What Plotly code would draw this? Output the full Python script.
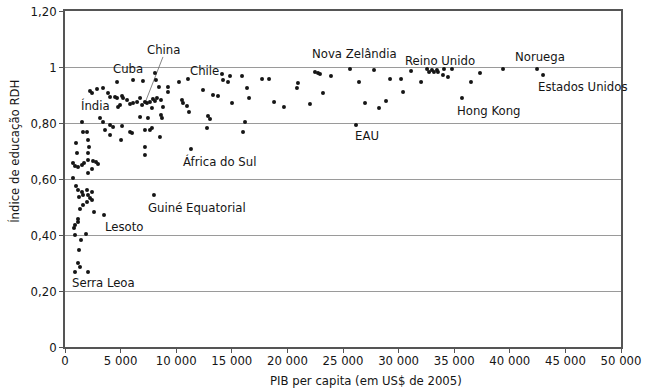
import plotly.graph_objects as go

# GDP per capita (US$ 2005) and HDI education index per country
gdp = [
    720, 990, 1170, 1530, 1620, 1980, 2070, 2250, 2430, 1260,
    1980, 1620, 1350, 2430, 2610, 3510, 1170, 1170, 900, 810,
    900, 1440, 1890, 1260, 1170, 1350, 900, 2070, 8000, 720,
    900, 1170, 1530, 1710, 2070, 2520, 2790, 2970, 2430, 2070,
    990, 1080, 2070, 2160, 2070, 1980, 1620, 1530, 2250, 2430,
    2880, 3420, 3870, 4050, 4500, 4680, 5130, 5220, 5580, 4950,
    4770, 5850, 6120, 6480, 6750, 6930, 7190, 7370, 7640, 7910,
    8090, 8270, 8630, 8810, 4680, 6120, 7010, 3150, 3420, 4050,
    4320, 5130, 5850, 6750, 7460, 8630, 8720, 7820, 7190, 7640,
    7190, 7190, 8540, 6030, 5040, 4050, 3600, 8090, 8180, 8450,
    9260, 9260, 10250, 11060, 12410, 13310, 13760, 14120, 14210, 14840,
    14660, 15920, 16370, 16550, 15020, 10520, 10610, 10970, 11150, 12860,
    13040, 12770, 16190, 16010, 11330, 7820, 17720, 18350, 18800, 19690,
    20950, 20860, 22030, 22480, 22750, 22930, 23200, 23920, 25630, 26440,
    26980, 26170, 27790, 28240, 28870, 29230, 30220, 30400, 31120, 32020,
    32560, 32740, 33000, 33180, 33450, 33540, 34080, 33990, 34440, 34800,
    35700, 36510, 37320, 39390, 42450, 42990,
]
edu = [
    0.604, 0.575, 0.561, 0.554, 0.543, 0.561, 0.543, 0.532, 0.525, 0.536,
    0.518, 0.507, 0.493, 0.554, 0.482, 0.471, 0.457, 0.446, 0.436, 0.425,
    0.400, 0.382, 0.404, 0.346, 0.300, 0.286, 0.268, 0.268, 0.543, 0.657,
    0.646, 0.643, 0.650, 0.657, 0.668, 0.664, 0.661, 0.654, 0.636, 0.621,
    0.729, 0.693, 0.693, 0.714, 0.739, 0.768, 0.768, 0.804, 0.914, 0.907,
    0.921, 0.925, 0.907, 0.893, 0.893, 0.889, 0.896, 0.889, 0.882, 0.864,
    0.857, 0.868, 0.871, 0.875, 0.889, 0.864, 0.875, 0.871, 0.875, 0.886,
    0.879, 0.889, 0.882, 0.857, 0.946, 0.954, 0.950, 0.818, 0.804, 0.793,
    0.786, 0.789, 0.768, 0.821, 0.818, 0.829, 0.818, 0.782, 0.775, 0.775,
    0.714, 0.686, 0.750, 0.764, 0.739, 0.757, 0.775, 0.979, 0.954, 0.929,
    0.929, 0.911, 0.946, 0.957, 0.918, 0.900, 0.896, 0.975, 0.954, 0.968,
    0.946, 0.968, 0.925, 0.889, 0.871, 0.882, 0.871, 0.861, 0.839, 0.825,
    0.814, 0.782, 0.804, 0.768, 0.707, 0.854, 0.957, 0.957, 0.875, 0.857,
    0.943, 0.925, 0.868, 0.982, 0.979, 0.975, 0.907, 0.968, 0.993, 0.946,
    0.871, 0.793, 0.989, 0.854, 0.879, 0.957, 0.957, 0.911, 0.986, 0.946,
    0.993, 0.982, 0.989, 0.982, 0.989, 0.982, 0.993, 0.971, 0.964, 0.993,
    0.889, 0.946, 0.979, 0.993, 0.993, 0.971,
]

# Country labels and their anchor positions (data units)
label_text = ["China", "Cuba", "Índia", "Chile", "África do Sul", "Guiné Equatorial",
              "Lesoto", "Serra Leoa", "Nova Zelândia", "EAU", "Reino Unido",
              "Noruega", "Estados Unidos", "Hong Kong"]
label_x = [8900, 5670, 2700, 12500, 13850, 11870, 5310, 3420, 25990, 27160,
           33720, 42720, 46580, 38130]
label_y = [1.061, 0.996, 0.864, 0.989, 0.664, 0.5, 0.432, 0.232, 1.05, 0.754,
           1.025, 1.036, 0.932, 0.846]

# Leader line from the China label to its point
china_line_x = [8810, 7190]
china_line_y = [1.036, 0.871]

x_tickvals = [0, 5000, 10000, 15000, 20000, 25000, 30000, 35000, 40000, 45000, 50000]
x_ticktext = ["0", "5 000", "10 000", "15 000", "20 000", "25 000", "30 000",
              "35 000", "40 000", "45 000", "50 000"]
y_tickvals = [0, 0.2, 0.4, 0.6, 0.8, 1.0, 1.2]
y_ticktext = ["0", "0,20", "0,40", "0,60", "0,80", "1", "1,20"]

FONT = "DejaVu Sans Condensed, Liberation Sans Narrow, Arial Narrow, sans-serif"
INK = "#151515"

fig = go.Figure()

fig.add_trace(go.Scatter(
    x=china_line_x, y=china_line_y, mode="lines",
    line=dict(color="#666666", width=0.8), hoverinfo="skip", showlegend=False,
))

fig.add_trace(go.Scatter(
    x=gdp, y=edu, mode="markers",
    marker=dict(size=4, color=INK),
    showlegend=False,
))

for t, lx, ly in zip(label_text, label_x, label_y):
    fig.add_annotation(
        x=lx, y=ly, text=t, showarrow=False,
        xanchor="center", yanchor="middle",
        font=dict(family=FONT, size=13, color=INK),
    )

# Axis titles
fig.add_annotation(
    x=27070, y=-0.101, xref="x", yref="paper",
    text="PIB per capita (em US$ de 2005)", showarrow=False,
    xanchor="center", yanchor="middle",
    font=dict(family=FONT, size=13, color=INK),
)
fig.add_annotation(
    x=-0.092, y=0.70, xref="paper", yref="y",
    text="Índice de educação RDH", showarrow=False, textangle=-90,
    xanchor="center", yanchor="middle",
    font=dict(family=FONT, size=13, color=INK),
)

fig.update_layout(
    width=655, height=391,
    margin=dict(l=65, r=34, t=11, b=44),
    paper_bgcolor="white", plot_bgcolor="white",
    font=dict(family=FONT, size=13, color=INK),
    showlegend=False,
)

fig.update_xaxes(
    range=[0, 50000], tickvals=x_tickvals, ticktext=x_ticktext,
    showgrid=False, zeroline=False, automargin=False,
    showline=True, linecolor="#555555", linewidth=1.5, mirror=True,
    ticks="outside", ticklen=4, tickcolor="#555555", ticklabelstandoff=-3,
    tickfont=dict(family=FONT, size=13, color=INK),
)

fig.update_yaxes(
    range=[0, 1.2], tickvals=y_tickvals, ticktext=y_ticktext,
    showgrid=True, gridcolor="#9a9a9a", gridwidth=1, zeroline=False, automargin=False,
    showline=True, linecolor="#555555", linewidth=1.5, mirror=True,
    ticks="outside", ticklen=4, tickcolor="#555555",
    tickfont=dict(family=FONT, size=13, color=INK),
)

fig.write_html("out.html")
